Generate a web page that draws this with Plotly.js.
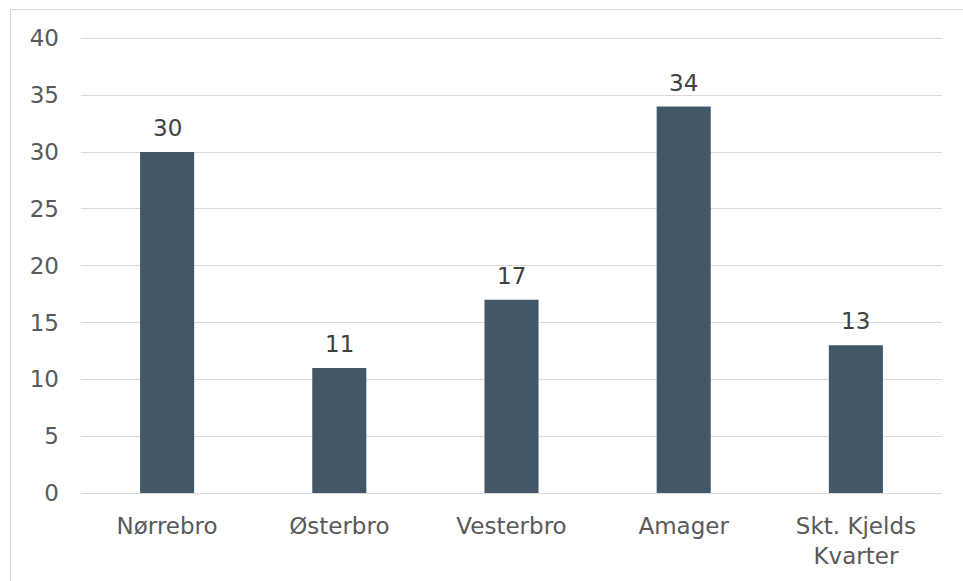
<!DOCTYPE html>
<html>
<head>
<meta charset="utf-8">
<script src="https://cdn.plot.ly/plotly-3.0.1.min.js"></script>
<style>
html,body{margin:0;padding:0;background:#fff;overflow:hidden;}
#chart{width:963px;height:581px;position:absolute;left:0;top:0;}
#frame{position:absolute;left:10px;top:9px;width:1000px;height:700px;border:1px solid #d9d9d9;pointer-events:none;}
</style>
</head>
<body>
<div id="chart"></div>
<div id="frame"></div>
<script>
const categories = ["Nørrebro", "Østerbro", "Vesterbro", "Amager", "Skt. Kjelds<br>Kvarter"];
const values = [30, 11, 17, 34, 13];
const yTicks = [0, 5, 10, 15, 20, 25, 30, 35, 40];

const FONT = "DejaVu Sans, Verdana, sans-serif";
const FS = 23;

const trace = {
  type: "bar",
  x: categories,
  y: values,
  marker: {color: "#435866"},
  hoverinfo: "none"
};

const annotations = categories.map((c, i) => ({
  x: c, y: values[i], xref: "x", yref: "y",
  text: String(values[i]),
  showarrow: false, yanchor: "bottom", yshift: 9,
  font: {family: FONT, size: FS, color: "#404040"}
}));

const layout = {
  width: 963, height: 581,
  margin: {l: 81, r: 21, t: 35.1, b: 87.5},
  paper_bgcolor: "#ffffff", plot_bgcolor: "#ffffff",
  bargap: 0.686,
  showlegend: false,
  font: {family: FONT, size: FS, color: "#595959"},
  xaxis: {
    type: "category",
    showgrid: false, showline: false, zeroline: false,
    ticks: "", ticklabelstandoff: 17,
    tickfont: {family: FONT, size: FS, color: "#595959"}
  },
  yaxis: {
    range: [0, 40.3],
    tickvals: yTicks, ticktext: yTicks.map(String),
    showgrid: true, gridcolor: "#d9d9d9", gridwidth: 1,
    zeroline: true, zerolinecolor: "#d9d9d9", zerolinewidth: 1,
    showline: false, ticks: "", ticklabelstandoff: 21,
    tickfont: {family: FONT, size: FS, color: "#595959"}
  },
  annotations: annotations
};

Plotly.newPlot("chart", [trace], layout, {displayModeBar: false, staticPlot: true});
</script>
</body>
</html>
